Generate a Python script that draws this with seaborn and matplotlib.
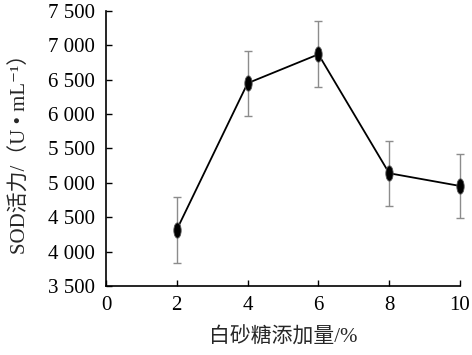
import numpy as np
import pandas as pd
import seaborn as sns
import matplotlib.pyplot as plt
from matplotlib.path import Path
from matplotlib.transforms import Affine2D

sns.set_style("ticks")
plt.rcParams["font.family"] = ["Liberation Serif", "Noto Sans CJK SC", "DejaVu Sans"]

sugar = [2, 4, 6, 8, 10]
sod = [4320, 6450, 6870, 5140, 4955]
err = [480, 475, 480, 475, 470]
yticks = [3500, 4000, 4500, 5000, 5500, 6000, 6500, 7000, 7500]
ytick_labels = ["3 500", "4 000", "4 500", "5 000", "5 500", "6 000", "6 500", "7 000", "7 500"]
xticks = [0, 2, 4, 6, 8, 10]

df = pd.DataFrame({"sugar": sugar, "sod": sod, "err": err})

# tall ellipse marker
ellipse = Path.unit_circle().transformed(Affine2D().scale(0.48, 1.0))

fig, ax = plt.subplots(figsize=(4.72, 3.55), dpi=100)
fig.subplots_adjust(left=0.2246, right=0.9746, top=0.969, bottom=0.1944)

eb = ax.errorbar(df["sugar"], df["sod"], yerr=df["err"], fmt="none",
                 ecolor="#8c8c8c", elinewidth=1.0, capsize=3, capthick=1.0, zorder=1)
for art in eb.lines[1] + eb.lines[2]:
    art.set_clip_on(False)
sns.lineplot(data=df, x="sugar", y="sod", color="black", linewidth=1.3,
             marker=ellipse, markersize=11, markerfacecolor="black",
             markeredgecolor="#555555", markeredgewidth=0.6, ax=ax, zorder=2,
             clip_on=False)

ax.set_xlim(0, 10)
ax.set_ylim(3500, 7500)
ax.set_xticks(xticks)
ax.set_xticklabels([str(t) for t in xticks])
ax.set_yticks(yticks)
ax.set_yticklabels(ytick_labels)
ax.tick_params(axis="both", direction="in", length=4, width=1, labelsize=15, colors="black")
ax.tick_params(axis="y", pad=8)
ax.tick_params(axis="x", pad=7)
for s in ["top", "right"]:
    ax.spines[s].set_visible(False)
for s in ["left", "bottom"]:
    ax.spines[s].set_linewidth(1.2)
    ax.spines[s].set_color("black")

ax.set_xlabel("白砂糖添加量/%", fontsize=15, labelpad=9)
ax.set_ylabel("SOD活力/（U • mL⁻¹）", fontsize=15, labelpad=12)

plt.savefig("out.png", dpi=100)
